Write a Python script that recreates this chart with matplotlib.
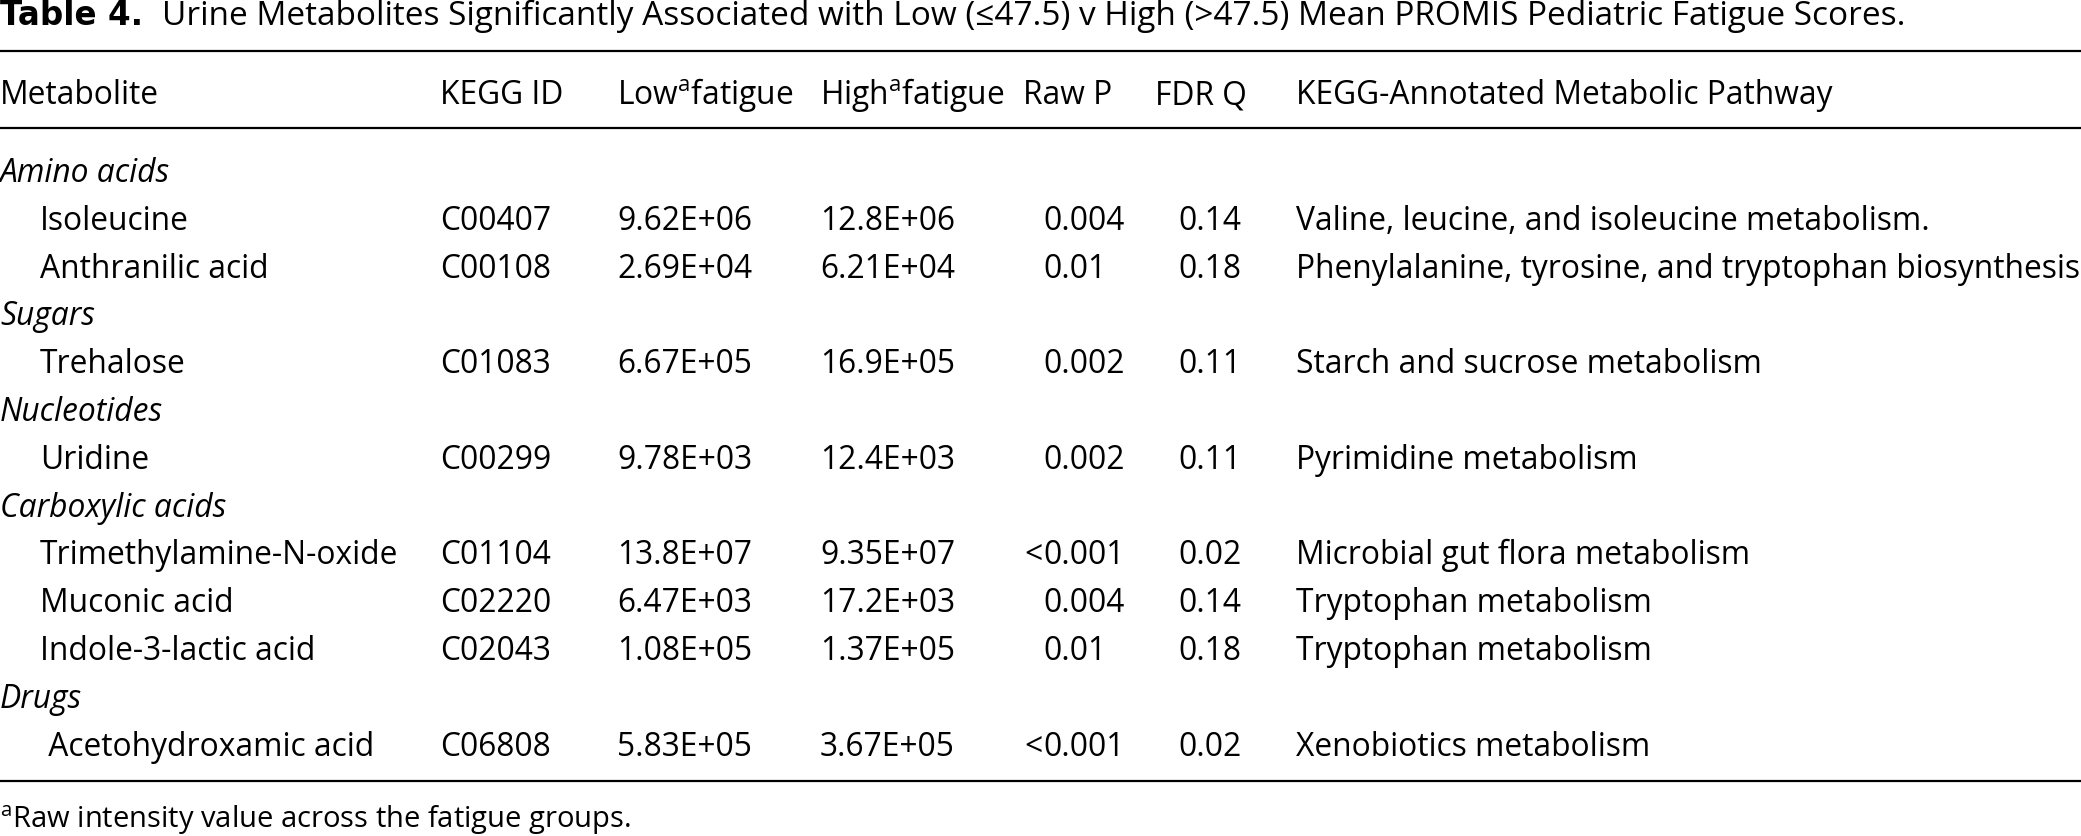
import matplotlib.pyplot as plt

# Table content
title_bold = 'Table 4.'
title_rest = ('Urine Metabolites Significantly Associated with Low (\u226447.5) v High (>47.5) '
              'Mean PROMIS Pediatric Fatigue Scores.')
headers = ['Metabolite', 'KEGG ID', 'Low$^{\\mathregular{a}}$fatigue', 'High$^{\\mathregular{a}}$fatigue',
           'Raw P', 'FDR Q', 'KEGG-Annotated Metabolic Pathway']

groups = ['Amino acids', 'Sugars', 'Nucleotides', 'Carboxylic acids', 'Drugs']
group_of = [0, 0, 1, 2, 3, 3, 3, 4]
metabolites = ['Isoleucine', 'Anthranilic acid', 'Trehalose', 'Uridine',
               'Trimethylamine-N-oxide', 'Muconic acid', 'Indole-3-lactic acid',
               ' Acetohydroxamic acid']
kegg_ids = ['C00407', 'C00108', 'C01083', 'C00299', 'C01104', 'C02220', 'C02043', 'C06808']
low_fatigue = ['9.62E+06', '2.69E+04', '6.67E+05', '9.78E+03', '13.8E+07', '6.47E+03', '1.08E+05', '5.83E+05']
high_fatigue = ['12.8E+06', '6.21E+04', '16.9E+05', '12.4E+03', '9.35E+07', '17.2E+03', '1.37E+05', '3.67E+05']
raw_p = ['0.004', '0.01', '0.002', '0.002', '<0.001', '0.004', '0.01', '<0.001']
fdr_q = ['0.14', '0.18', '0.11', '0.11', '0.02', '0.14', '0.18', '0.02']
pathways = ['Valine, leucine, and isoleucine metabolism.',
            'Phenylalanine, tyrosine, and tryptophan biosynthesis',
            'Starch and sucrose metabolism',
            'Pyrimidine metabolism',
            'Microbial gut flora metabolism',
            'Tryptophan metabolism',
            'Tryptophan metabolism',
            'Xenobiotics metabolism']
footnote = '$^{\\mathregular{a}}$Raw intensity value across the fatigue groups.'

W, H = 2081, 837
plt.rcParams['font.family'] = ['Open Sans', 'DejaVu Sans']
plt.rcParams['mathtext.fontset'] = 'custom'
plt.rcParams['mathtext.rm'] = 'Open Sans'

fig = plt.figure(figsize=(W / 100, H / 100), dpi=100)
ax = fig.add_axes([0, 0, 1, 1])
ax.set_xlim(0, W)
ax.set_ylim(H, 0)
ax.axis('off')

fs = 22.9
col_x = [0, 440, 617, 820, 1023, 1155, 1296]
val_x = [40, 440, 617, 820, 1043, 1178, 1296]

# title
ax.text(0, 25, title_bold, fontsize=23.5, fontweight='bold', family='DejaVu Sans', va='baseline')
ax.text(162, 25, title_rest, fontsize=24, va='baseline')

# rules
ax.hlines([52, 129, 782], 0, W, color='black', linewidth=1.6)

# header row
for x, h in zip(col_x, headers):
    ax.text(x, 104, h, fontsize=fs, va='baseline')

# body rows
y = 182
step = 47.8
last_group = -1
for i, name in enumerate(metabolites):
    g = group_of[i]
    if g != last_group:
        ax.text(0, y, groups[g], fontsize=fs, style='italic', va='baseline')
        y += step
        last_group = g
    ax.text(val_x[0], y, name, fontsize=fs, va='baseline')
    ax.text(val_x[1], y, kegg_ids[i], fontsize=fs, va='baseline')
    ax.text(val_x[2], y, low_fatigue[i], fontsize=fs, va='baseline')
    ax.text(val_x[3], y, high_fatigue[i], fontsize=fs, va='baseline')
    p = raw_p[i]
    if p.startswith('<'):
        ax.text(val_x[4], y, '<', fontsize=fs, va='baseline', ha='right')
        p = p[1:]
    ax.text(val_x[4], y, p, fontsize=fs, va='baseline')
    ax.text(val_x[5], y, fdr_q[i], fontsize=fs, va='baseline')
    ax.text(val_x[6], y, pathways[i], fontsize=fs, va='baseline')
    y += step

ax.text(0, 828, footnote, fontsize=21, va='baseline')

fig.savefig('out.png', dpi=100, facecolor='white')
